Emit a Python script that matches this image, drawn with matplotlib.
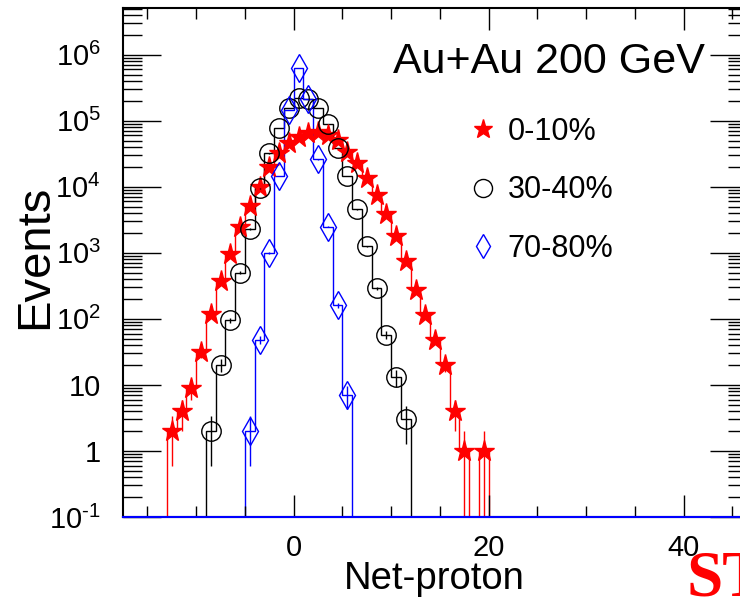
import numpy as np
import matplotlib
matplotlib.use('Agg')
import matplotlib.pyplot as plt
from matplotlib.ticker import MultipleLocator, LogLocator, FuncFormatter, NullFormatter
from matplotlib.lines import Line2D

plt.rcParams['font.family'] = ['Liberation Sans', 'DejaVu Sans']
plt.rcParams['mathtext.fontset'] = 'custom'
plt.rcParams['mathtext.rm'] = 'Liberation Sans'
plt.rcParams['mathtext.it'] = 'Liberation Sans:italic'
plt.rcParams['mathtext.bf'] = 'Liberation Sans:bold'

# net-proton bins (lower edge of each unit-wide bin) and event counts
bins_0_10 = list(range(-13, 20))
events_0_10 = [2, 4, 9, 31, 120, 370, 970, 2500, 5200, 10000, 20000, 33000,
               46000, 57000, 66000, 68000, 60000, 51000, 34000, 23000, 13400,
               7500, 3900, 1800, 740, 275, 115, 48, 20, 4, 1, 0, 1]

bins_30_40 = list(range(-9, 12))
events_30_40 = [2, 20, 95, 500, 2300, 9500, 32000, 78000, 155000, 220000,
                215000, 155000, 90000, 39000, 14500, 4600, 1250, 290, 57, 13, 3]

bins_70_80 = list(range(-5, 6))
events_70_80 = [2, 48, 1000, 14500, 145000, 630000, 210000, 26000, 2500, 160, 7]

labels = ['0-10%', '30-40%', '70-80%']
colors = ['#ff0000', '#000000', '#0000ff']

x_range = (-17.5, 46.5)
y_range = (0.1, 5.1e6)

fig = plt.figure(figsize=(7.4, 6.06), dpi=100)
ax = fig.add_axes([123/740, (606-517)/606, (747-123)/740, (517-8)/606])
ax.set_yscale('log')


def draw_series(bins, counts, color, marker, ms, filled):
    counts = np.array(counts, dtype=float)
    edges = np.append(np.array(bins, dtype=float), bins[-1] + 1)
    centers = np.array(bins) + 0.5
    ax.stairs(np.where(counts > 0, counts, 1e-3), edges, baseline=1e-3,
              color=color, lw=1.0)
    ok = counts > 0
    err = np.sqrt(counts[ok])
    lo = np.maximum(counts[ok] - err, 1e-3)
    hi = counts[ok] + err
    ax.vlines(centers[ok], lo, hi, color=color, lw=1.0)
    ax.plot(centers[ok], counts[ok], ls='none', marker=marker, ms=ms,
            mfc=color if filled else 'none', mec=color, mew=1.0)


draw_series(bins_0_10, events_0_10, colors[0], '*', 15.5, True)
draw_series(bins_30_40, events_30_40, colors[1], 'o', 14, False)
draw_series(bins_70_80, events_70_80, colors[2], 'd', 14, False)

ax.axhline(y_range[0], color='blue', lw=1.5, zorder=5, clip_on=False)

ax.set_xlim(*x_range)
ax.set_ylim(*y_range)

ax.xaxis.set_major_locator(MultipleLocator(20))
ax.xaxis.set_minor_locator(MultipleLocator(5))
ax.yaxis.set_major_locator(LogLocator(base=10, numticks=20))
ax.yaxis.set_minor_locator(LogLocator(base=10, subs=np.arange(2, 10), numticks=20))
ax.yaxis.set_minor_formatter(NullFormatter())


def ylab(v, pos):
    n = int(round(np.log10(v)))
    if n == 0:
        return '1'
    if n == 1:
        return '10'
    if n < 0:
        return r'$\mathregular{10^{‐%d}}$' % (-n)
    return r'$\mathregular{10^{%d}}$' % n


ax.yaxis.set_major_formatter(FuncFormatter(ylab))

ax.tick_params(axis='both', which='both', direction='in', top=True, right=True,
               width=1.0, labelsize=21)
ax.tick_params(axis='x', which='major', length=16, pad=12)
ax.tick_params(axis='x', which='minor', length=8)
ax.tick_params(axis='y', which='major', length=27, pad=16)
ax.tick_params(axis='y', which='minor', length=14)
for s in ax.spines.values():
    s.set_linewidth(1.5)

fig.text(47/740, 1-257/606, 'Events', rotation=90, rotation_mode='anchor',
         ha='center', va='baseline', fontsize=34)
fig.text(434/740, 1-589/606, 'Net-proton', ha='center', va='baseline', fontsize=27.5)
fig.text(705/740, 1-73/606, 'Au+Au 200 GeV', ha='right', va='baseline', fontsize=31)
fig.text(687/740, 1-595/606, 'STAR', color='red', family='Liberation Serif',
         weight='bold', fontsize=47, ha='left', va='baseline')

handles = [
    Line2D([], [], ls='none', marker='*', ms=14, mfc=colors[0], mec=colors[0]),
    Line2D([], [], ls='none', marker='o', ms=13, mfc='none', mec=colors[1]),
    Line2D([], [], ls='none', marker='d', ms=12, mfc='none', mec=colors[2]),
]
ax.legend(handles, labels, loc='upper left', bbox_to_anchor=(468/740, 1-117/606),
          bbox_transform=fig.transFigure, frameon=False, fontsize=22,
          borderpad=0, borderaxespad=0, handlelength=1.0, handletextpad=0.3,
          labelspacing=0.93, numpoints=1)

fig.savefig('out.png', dpi=100)
